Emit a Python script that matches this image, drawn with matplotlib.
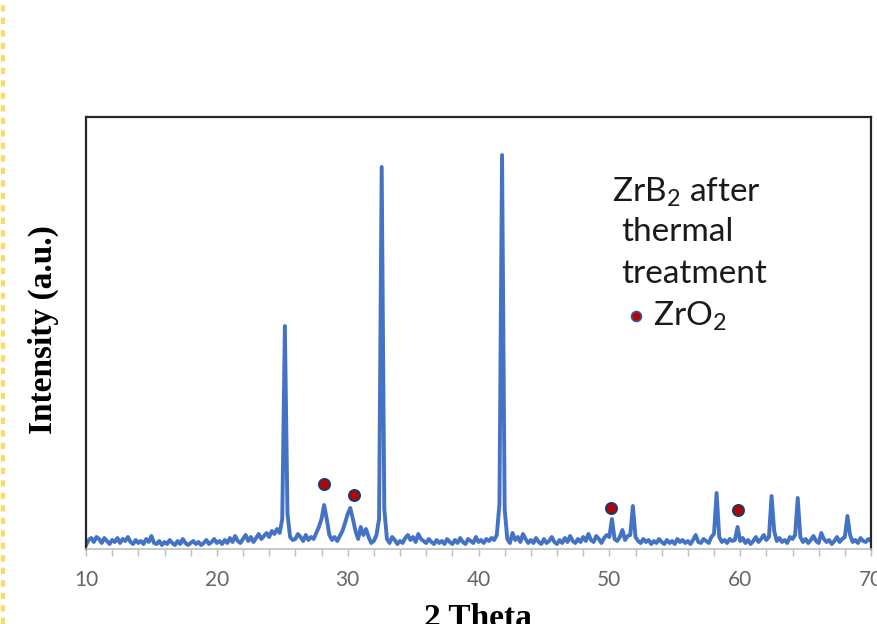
import numpy as np
import matplotlib
matplotlib.use("Agg")
import matplotlib.pyplot as plt
from matplotlib.lines import Line2D
from matplotlib.ticker import MultipleLocator

two_theta = np.round(np.arange(10.0, 70.01, 0.2), 1)
intensity = [
    4, 9, 11, 7, 12, 10, 6, 11, 8, 5,          # 10.0 - 11.8
    9, 7, 11, 6, 10, 8, 12, 7, 5, 9,           # 12
    6, 8, 5, 10, 7, 13, 6, 5, 8, 4,            # 14
    7, 5, 9, 6, 4, 8, 5, 10, 6, 4,             # 16
    6, 8, 5, 7, 4, 6, 9, 5, 7, 10,             # 18
    6, 8, 5, 9, 6, 11, 7, 13, 8, 6,            # 20
    10, 14, 8, 12, 7, 11, 15, 10, 13, 16,      # 22
    12, 18, 15, 20, 16, 30, 223, 35, 12, 9,    # 24
    10, 15, 12, 8, 14, 9, 12, 10, 16, 22,      # 26
    30, 44, 30, 14, 9, 12, 8, 13, 18, 26,      # 28
    35, 41, 30, 18, 10, 22, 14, 20, 12, 6,     # 30
    8, 14, 30, 382, 40, 10, 6, 12, 9, 5,       # 32
    8, 6, 11, 14, 9, 12, 7, 15, 10, 8,         # 34
    6, 10, 7, 5, 9, 6, 8, 5, 10, 7,            # 36
    5, 9, 6, 11, 7, 5, 10, 8, 6, 12,           # 38
    7, 9, 6, 10, 8, 11, 9, 14, 45, 394,        # 40
    40, 10, 6, 16, 9, 12, 7, 15, 10, 6,        # 42
    9, 6, 11, 7, 5, 10, 6, 8, 12, 7,           # 44
    5, 9, 6, 11, 7, 13, 8, 6, 10, 7,           # 46
    12, 8, 15, 9, 7, 13, 10, 6, 11, 14,        # 48
    12, 30, 10, 8, 12, 19, 9, 13, 14, 43,      # 50
    12, 8, 6, 10, 7, 9, 5, 8, 6, 10,           # 52
    7, 5, 9, 6, 8, 5, 10, 7, 9, 6,             # 54
    8, 5, 9, 14, 7, 6, 10, 8, 6, 12,           # 56
    15, 56, 12, 7, 9, 6, 10, 8, 9, 22,         # 58
    8, 11, 6, 9, 5, 8, 12, 7, 10, 14,          # 60
    9, 12, 53, 18, 8, 11, 7, 9, 6, 12,         # 62
    10, 14, 51, 12, 7, 10, 6, 9, 13, 8,        # 64
    6, 16, 10, 7, 9, 5, 8, 12, 7, 10,          # 66
    12, 33, 14, 7, 9, 6, 11, 8, 7, 10,         # 68
    8,                                         # 70
]

# ZrO2 markers
zro2_x = [28.2, 30.45, 50.1, 59.8]
zro2_y = [65, 54, 41, 39]

line_color = "#4472C4"
dot_face = "#C00000"
dot_edge = "#1F3864"

fig = plt.figure(figsize=(8.77, 6.24), dpi=100)
ax = fig.add_axes([86 / 877, 1 - 549 / 624, (871 - 86) / 877, (549 - 117) / 624])

ax.plot(two_theta, intensity, color=line_color, lw=2.8, solid_joinstyle="round")
ax.scatter(zro2_x, zro2_y, s=60, c=dot_face, edgecolors=dot_edge, linewidths=1.6, zorder=3)

ax.set_xlim(10, 70)
ax.set_ylim(0, 432)
ax.set_yticks([])
ax.xaxis.set_major_locator(MultipleLocator(10))
ax.xaxis.set_minor_locator(MultipleLocator(2))
ax.tick_params(axis="x", which="both", direction="out", length=5, width=1,
               color="#BFBFBF", labelcolor="#666666", pad=10)
for lab in ax.get_xticklabels():
    lab.set_fontfamily("Lato")
    lab.set_fontsize(15)

for side in ("left", "top", "right"):
    ax.spines[side].set_color("#262626")
    ax.spines[side].set_linewidth(1.6)
ax.spines["bottom"].set_color("#BFBFBF")
ax.spines["bottom"].set_linewidth(1.2)

# axis titles
fig.text(478 / 877, 1 - 603 / 624, "2 Theta", ha="center", va="top",
         family="Liberation Serif", weight="bold", fontsize=24)
fig.text(43 / 877, 1 - 330 / 624, "Intensity (a.u.)", ha="center", va="center",
         rotation=90, family="Liberation Serif", weight="bold", fontsize=24)

# annotation block
txt = dict(family="Lato", fontsize=24, color="#1a1a1a", va="baseline", ha="left")
fig.text(612 / 877, 1 - 202 / 624, r"ZrB$\mathregular{_2}$ after", **txt)
fig.text(621 / 877, 1 - 241 / 624, "thermal", **txt)
fig.text(621 / 877, 1 - 283 / 624, "treatment", **txt)
fig.text(653 / 877, 1 - 326 / 624, r"ZrO$\mathregular{_2}$", **txt)
fig.add_artist(Line2D([636 / 877], [1 - 316 / 624], transform=fig.transFigure,
                      marker="o", markersize=7, markerfacecolor=dot_face,
                      markeredgecolor="#2F5597", markeredgewidth=1.3, linestyle="none"))

# dotted page margin on the left
fig.add_artist(Line2D([2.5 / 877, 2.5 / 877], [0, 1], transform=fig.transFigure,
                      color="#FFD966", lw=3, linestyle=(0, (1.5, 1.5))))

fig.savefig("out.png", dpi=100)
